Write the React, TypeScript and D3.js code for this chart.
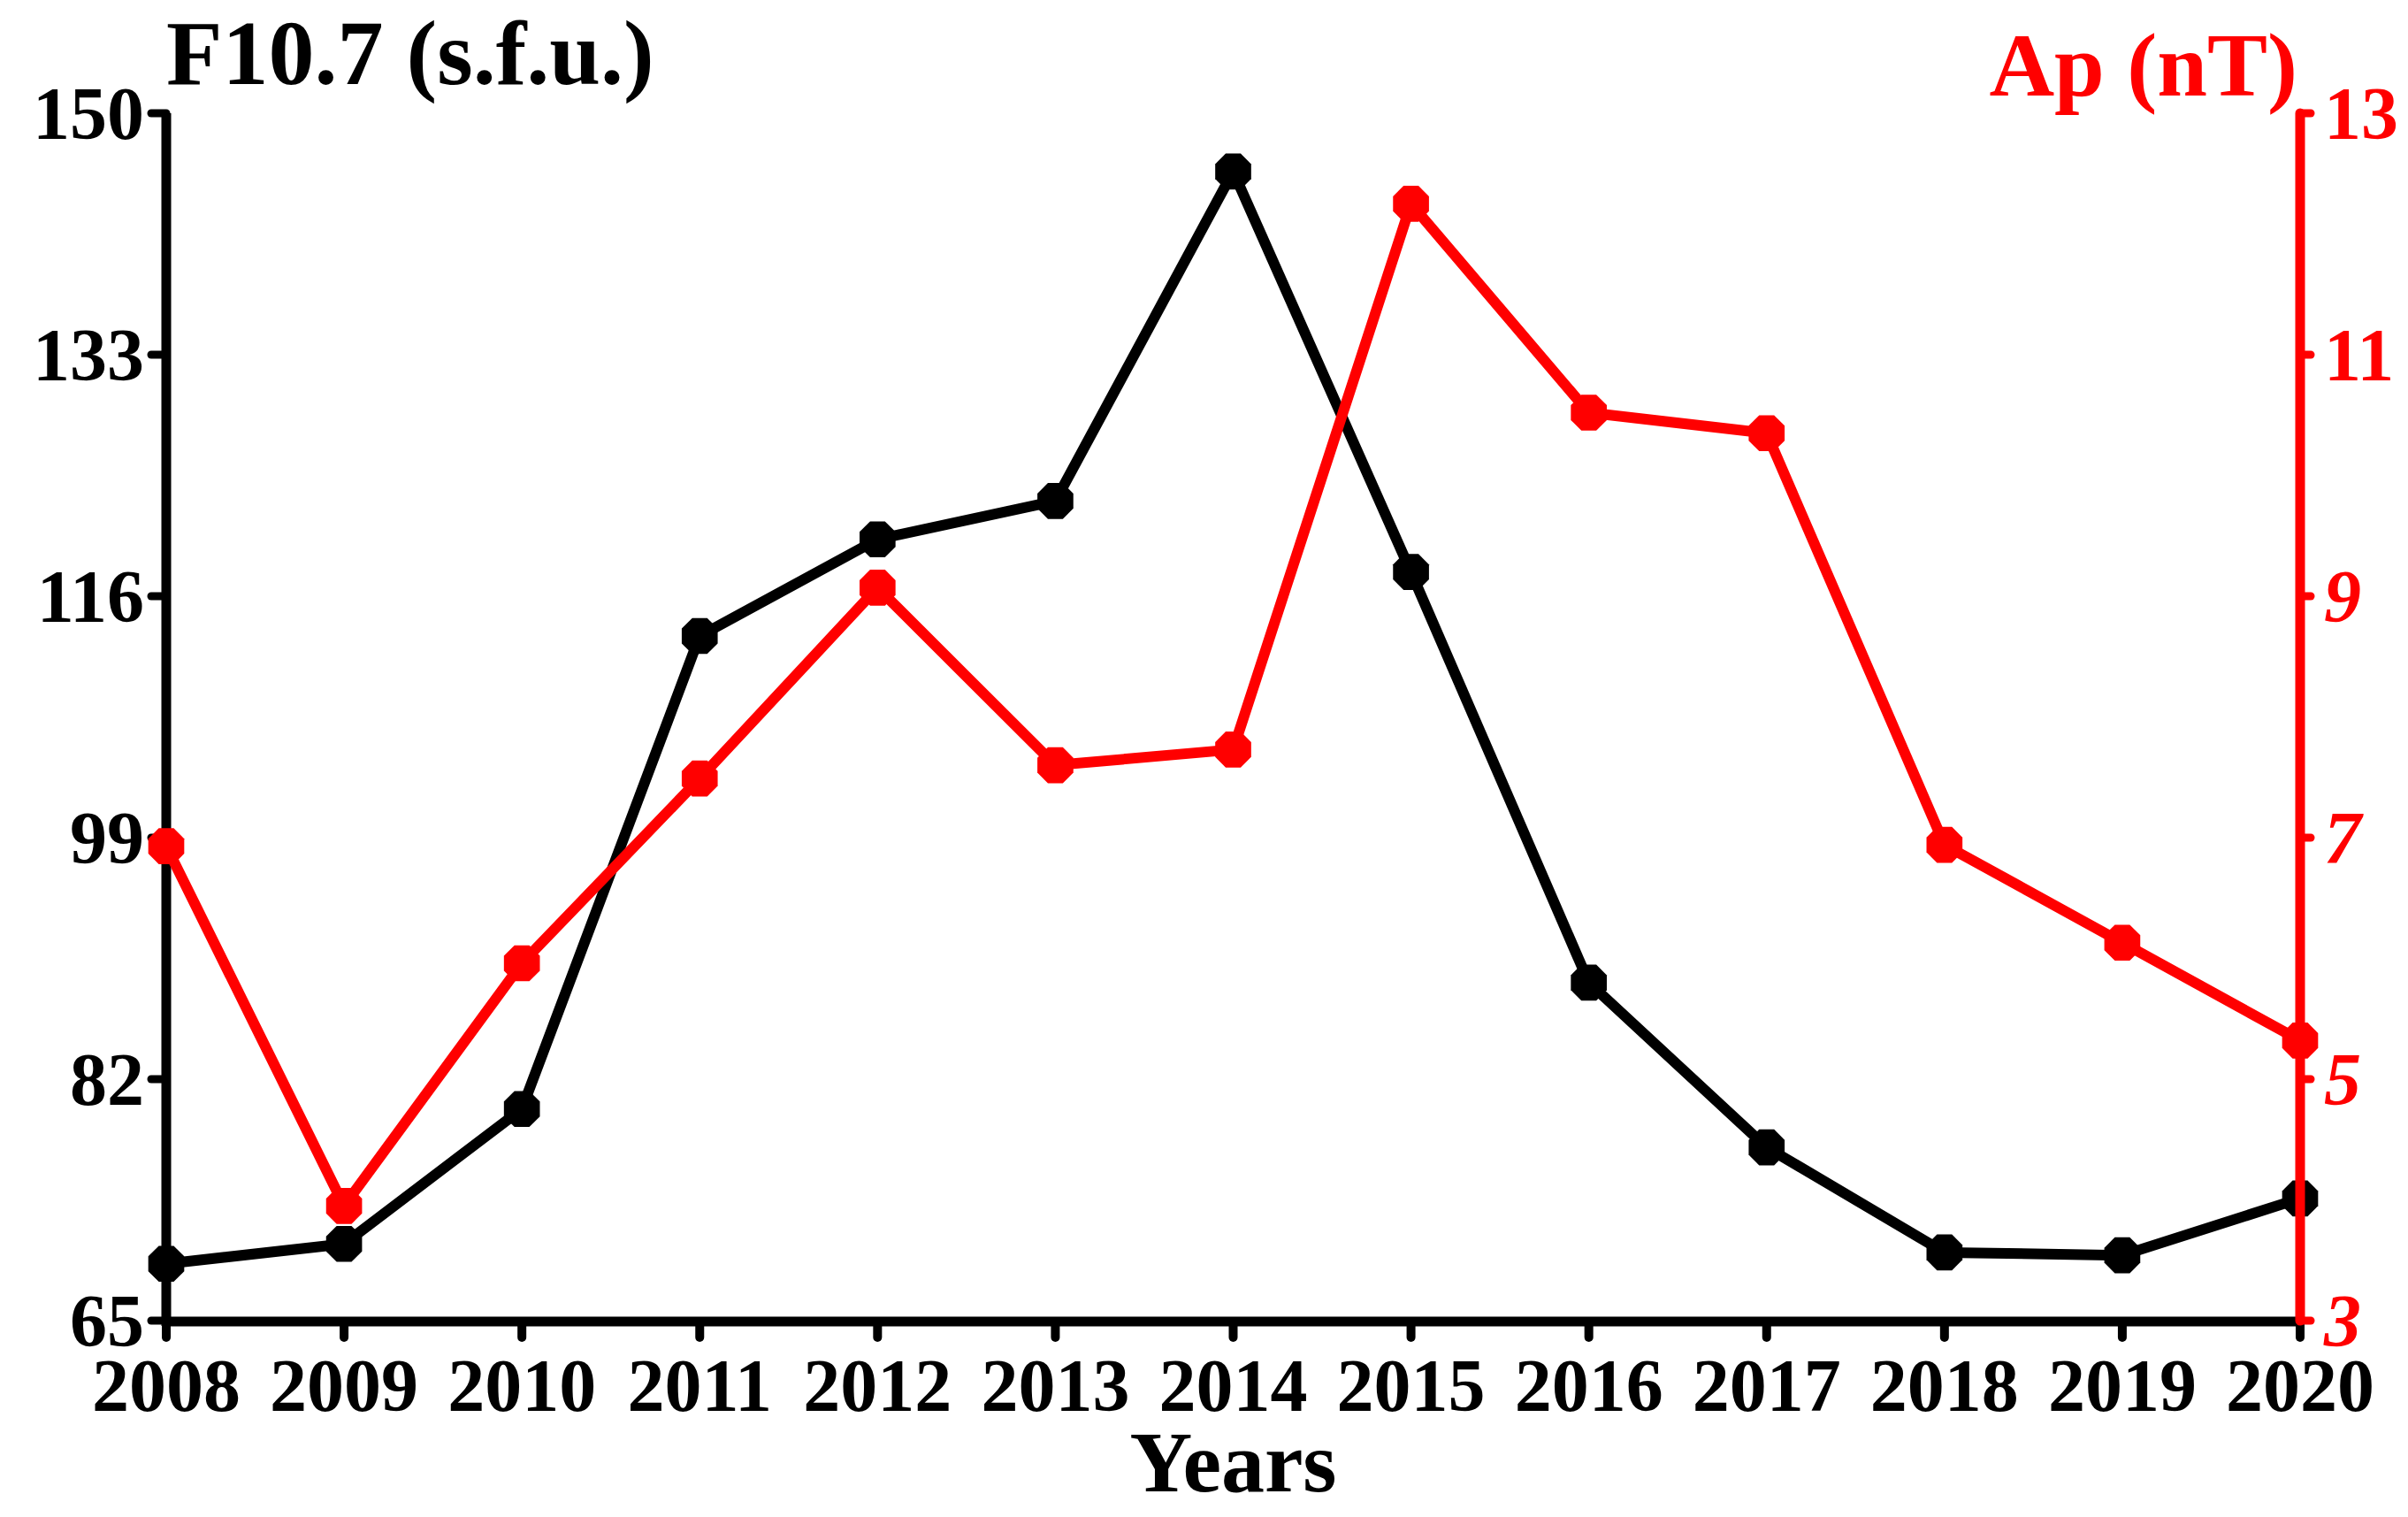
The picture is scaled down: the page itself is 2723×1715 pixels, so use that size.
import React from "react";
import * as d3 from "d3";

const years = [2008, 2009, 2010, 2011, 2012, 2013, 2014, 2015, 2016, 2017, 2018, 2019, 2020];
const f107 = [69.0, 70.4, 79.9, 113.2, 120.0, 122.7, 145.9, 117.7, 88.8, 77.2, 69.8, 69.6, 73.6];
const ap = [6.93, 3.95, 5.96, 7.49, 9.07, 7.6, 7.73, 12.25, 10.52, 10.35, 6.94, 6.13, 5.32];
const leftTicks = [65, 82, 99, 116, 133, 150];
const rightTicks = [3, 5, 7, 9, 11, 13];
const italicRight = [3, 5, 7, 9];

const W = 2723;
const H = 1715;
const X0 = 188;
const X1 = 2601;
const Y0 = 1493;
const Y1 = 128;
const FONT = "'Liberation Serif', 'Times New Roman', serif";
const RED = "#ff0000";

function octagon(cx: number, cy: number, r: number) {
  const pts: [number, number][] = d3.range(8).map((k) => {
    const a = (Math.PI / 8) * (2 * k + 1);
    return [cx + r * Math.cos(a), cy + r * Math.sin(a)];
  });
  return "M" + pts.map((p) => p.join(",")).join("L") + "Z";
}

export default function App() {
  const x = d3.scaleLinear().domain([2008, 2020]).range([X0, X1]);
  const yL = d3.scaleLinear().domain([65, 150]).range([Y0, Y1]);
  const yR = d3.scaleLinear().domain([3, 13]).range([Y0, Y1]);

  const lineL = d3
    .line<number>()
    .x((_, i) => x(years[i]))
    .y((d) => yL(d));
  const lineR = d3
    .line<number>()
    .x((_, i) => x(years[i]))
    .y((d) => yR(d));

  return (
    <svg
      width={W}
      height={H}
      viewBox={`0 0 ${W} ${H}`}
      style={{ position: "absolute", left: 0, top: 0, display: "block", background: "#fff" }}
      fontFamily={FONT}
      fontWeight="bold"
    >
      <rect x={0} y={0} width={W} height={H} fill="#fff" />

      {/* x axis */}
      <line x1={X0} x2={X1} y1={Y0 + 1} y2={Y0 + 1} stroke="#000" strokeWidth={11} />
      {years.map((yr) => (
        <g key={yr}>
          <line
            x1={x(yr)}
            x2={x(yr)}
            y1={Y0 + 4}
            y2={Y0 + 19}
            stroke="#000"
            strokeWidth={10}
            strokeLinecap="round"
          />
          <text x={x(yr)} y={1595} textAnchor="middle" fontSize={84} fill="#000">
            {yr}
          </text>
        </g>
      ))}

      {/* left axis */}
      <line x1={X0} x2={X0} y1={Y1} y2={Y0 + 6} stroke="#000" strokeWidth={11} />
      {leftTicks.map((t) => (
        <g key={t}>
          <line
            x1={X0}
            x2={X0 - 17}
            y1={yL(t)}
            y2={yL(t)}
            stroke="#000"
            strokeWidth={9}
            strokeLinecap="round"
          />
          <text x={163} y={yL(t)} dy="0.34em" textAnchor="end" fontSize={84} fill="#000">
            {t}
          </text>
        </g>
      ))}

      {/* series */}
      <path d={lineL(f107) || ""} fill="none" stroke="#000" strokeWidth={12} strokeLinejoin="round" />
      {f107.map((v, i) => (
        <path key={"b" + i} d={octagon(x(years[i]), yL(v), 22)} fill="#000" />
      ))}

      {/* right axis */}
      <line x1={X1} x2={X1} y1={Y1} y2={Y0} stroke={RED} strokeWidth={11} strokeLinecap="round" />
      {rightTicks.map((t) => (
        <g key={t}>
          <line
            x1={X1}
            x2={X1 + 12}
            y1={yR(t)}
            y2={yR(t)}
            stroke={RED}
            strokeWidth={9}
            strokeLinecap="round"
          />
          <text
            x={2628}
            y={yR(t)}
            dy="0.34em"
            textAnchor="start"
            fontSize={84}
            fill={RED}
            fontStyle={italicRight.includes(t) ? "italic" : "normal"}
          >
            {t}
          </text>
        </g>
      ))}

      <path d={lineR(ap) || ""} fill="none" stroke={RED} strokeWidth={12} strokeLinejoin="round" />
      {ap.map((v, i) => (
        <path key={"r" + i} d={octagon(x(years[i]), yR(v), 22)} fill={RED} />
      ))}

      {/* titles */}
      <text x={188} y={95} fontSize={104} fill="#000">
        F10.7 (s.f.u.)
      </text>
      <text x={2598} y={108} fontSize={102} fill={RED} textAnchor="end">
        Ap (nT)
      </text>
      <text x={(X0 + X1) / 2} y={1686} fontSize={98} fill="#000" textAnchor="middle">
        Years
      </text>
    </svg>
  );
}
